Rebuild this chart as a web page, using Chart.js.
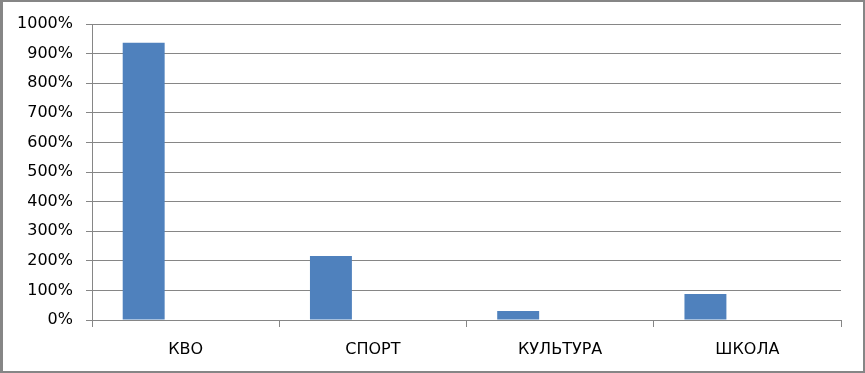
<!DOCTYPE html>
<html>
<head>
<meta charset="utf-8">
<script src="https://cdn.jsdelivr.net/npm/chart.js@4/dist/chart.umd.min.js"></script>
<style>
  html, body { margin: 0; padding: 0; background: #fff; }
  #wrap { width: 865px; height: 373px; position: relative; }
</style>
</head>
<body>
<div id="wrap"><canvas id="c" width="865" height="373"></canvas></div>
<script>
const categories = ['КВО', 'СПОРТ', 'КУЛЬТУРА', 'ШКОЛА'];
const seriesMain = [937, 216, 30, 88];
const seriesEmpty1 = [null, null, null, null];
const seriesEmpty2 = [null, null, null, null];
const yTicks = [0, 100, 200, 300, 400, 500, 600, 700, 800, 900, 1000];

const frame = {
  id: 'frame',
  afterDraw(chart) {
    const ctx = chart.ctx;
    ctx.save();
    ctx.fillStyle = '#868686';
    const w = chart.width, h = chart.height;
    ctx.fillRect(0, 0, w, 2);
    ctx.fillRect(0, 0, 3, h);
    ctx.fillRect(w - 2, 0, 2, h);
    ctx.fillRect(0, h - 2, w, 2);
    ctx.restore();
  }
};

new Chart(document.getElementById('c'), {
  type: 'bar',
  data: {
    labels: categories,
    datasets: [
      { data: seriesMain, backgroundColor: '#4f81bd', borderWidth: 0 },
      { data: seriesEmpty1, backgroundColor: '#c0504d', borderWidth: 0 },
      { data: seriesEmpty2, backgroundColor: '#9bbb59', borderWidth: 0 }
    ]
  },
  options: {
    responsive: false,
    animation: false,
    devicePixelRatio: 1,
    layout: { padding: { top: 24, right: 24, bottom: 0, left: 0 } },
    datasets: { bar: { categoryPercentage: 0.672, barPercentage: 1.0 } },
    plugins: { legend: { display: false }, tooltip: { enabled: false } },
    scales: {
      x: {
        grid: { display: true, drawOnChartArea: false, drawTicks: true, tickLength: 7, color: '#868686', offset: true },
        border: { display: true, color: '#868686', width: 1 },
        ticks: { color: '#000', font: { family: 'DejaVu Sans', size: 16 }, padding: 13, maxRotation: 0 },
        afterFit(s) { s.height = 53; }
      },
      y: {
        min: 0, max: 1000,
        afterBuildTicks(s) { s.ticks = yTicks.map(v => ({ value: v })); },
        grid: { color: '#868686', lineWidth: 1, drawTicks: true, tickLength: 6 },
        border: { display: true, color: '#868686', width: 1 },
        ticks: { color: '#000', font: { family: 'DejaVu Sans', size: 16 }, padding: 13, callback: v => v + '%' },
        afterFit(s) { s.width = 92; }
      }
    }
  },
  plugins: [frame]
});
</script>
</body>
</html>
